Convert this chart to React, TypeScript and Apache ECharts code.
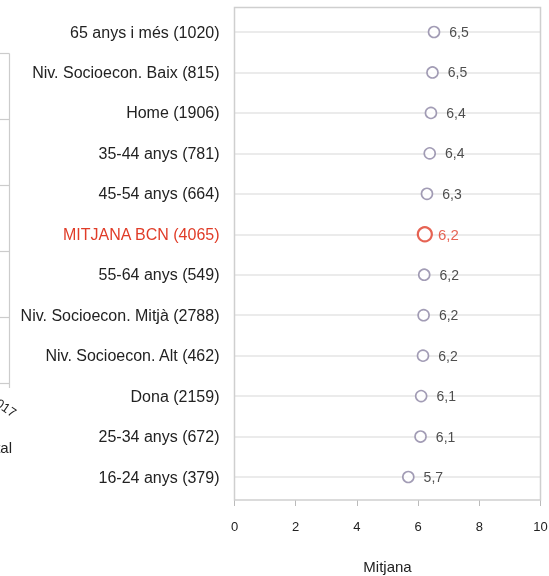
import React, { useEffect, useRef } from "react";
import * as echarts from "echarts";

const categories = [
  "65 anys i més (1020)",
  "Niv. Socioecon. Baix (815)",
  "Home (1906)",
  "35-44 anys (781)",
  "45-54 anys (664)",
  "MITJANA BCN (4065)",
  "55-64 anys (549)",
  "Niv. Socioecon. Mitjà (2788)",
  "Niv. Socioecon. Alt (462)",
  "Dona (2159)",
  "25-34 anys (672)",
  "16-24 anys (379)",
];
const values = [6.52, 6.47, 6.42, 6.38, 6.29, 6.22, 6.2, 6.18, 6.16, 6.1, 6.08, 5.68];
const valueLabels = ["6,5", "6,5", "6,4", "6,4", "6,3", "6,2", "6,2", "6,2", "6,2", "6,1", "6,1", "5,7"];
const highlight = "MITJANA BCN (4065)";
const xTicks = [0, 2, 4, 6, 8, 10];

const FONT = "Arial, 'Liberation Sans', sans-serif";
const RED = "#e03c28";
const PURPLE = "#8b83a3";

export default function App() {
  const ref = useRef<HTMLDivElement>(null);
  useEffect(() => {
    if (!ref.current) return;
    const chart = echarts.init(ref.current, null, { renderer: "svg" });
    const data = categories.map((c, i) => {
      const hi = c === highlight;
      return {
        value: [values[i], c],
        symbolSize: hi ? 14 : 11,
        itemStyle: { color: "#fff", borderColor: hi ? RED : PURPLE, borderWidth: hi ? 2.2 : 1.6 },
        label: { color: hi ? RED : "#222", fontSize: hi ? 15 : 14, distance: hi ? 5 : 9 },
      };
    });
    const leftLinesY = [53.5, 119.5, 185.5, 251.5, 317.5, 383.5];
    chart.setOption({
      animation: false,
      grid: {
        left: 234.5,
        width: 306,
        top: 32,
        height: 445,
        containLabel: false,
        outerBoundsMode: "none",
      },
      xAxis: {
        type: "value",
        min: xTicks[0],
        max: xTicks[xTicks.length - 1],
        interval: 2,
        offset: 23,
        axisLine: { show: false },
        axisTick: { show: true, length: 6, lineStyle: { color: "#bbb" } },
        splitLine: { show: false },
        axisLabel: { color: "#222", fontSize: 13, fontFamily: FONT, margin: 20 },
        name: "Mitjana",
        nameLocation: "middle",
        nameGap: 59,
        nameTextStyle: { color: "#222", fontSize: 15, fontFamily: FONT },
      },
      yAxis: {
        type: "category",
        inverse: true,
        boundaryGap: false,
        data: categories.map((c) => ({
          value: c,
          textStyle: { color: c === highlight ? RED : "#222" },
        })),
        axisLine: { show: false },
        axisTick: { show: false },
        axisLabel: { fontSize: 16, fontFamily: FONT, margin: 15 },
        splitLine: { show: true, lineStyle: { color: "#e4e4e4", width: 1.6 } },
      },
      series: [
        {
          type: "scatter",
          symbol: "circle",
          data,
          label: {
            show: true,
            position: "right",
            fontFamily: FONT,
            formatter: (p: any) => valueLabels[p.dataIndex],
          },
          z: 5,
        },
      ],
      graphic: [
        {
          type: "rect",
          shape: { x: 234.5, y: 7.5, width: 306, height: 492.5 },
          style: { fill: "none", stroke: "#cfcfcf", lineWidth: 1.5 },
          silent: true,
          z: 1,
        },
        {
          type: "line",
          shape: { x1: 9.5, y1: 53.5, x2: 9.5, y2: 388 },
          style: { stroke: "#cccccc", lineWidth: 1.2 },
          silent: true,
        },
        ...leftLinesY.map((y) => ({
          type: "line",
          shape: { x1: 0, y1: y, x2: 9.5, y2: y },
          style: { stroke: "#cccccc", lineWidth: 1.2 },
          silent: true,
        })),
        {
          type: "text",
          x: 15,
          y: 414,
          rotation: -0.6,
          style: { text: "2017", fill: "#222", font: `13px ${FONT}`, align: "right", verticalAlign: "middle" },
          silent: true,
        },
        {
          type: "text",
          x: 12,
          y: 447,
          style: { text: "Total", fill: "#222", font: `15px ${FONT}`, align: "right", verticalAlign: "middle" },
          silent: true,
        },
      ],
    });
    return () => chart.dispose();
  }, []);
  return <div ref={ref} style={{ position: "fixed", left: 0, top: 0, width: 549, height: 576 }} />;
}
